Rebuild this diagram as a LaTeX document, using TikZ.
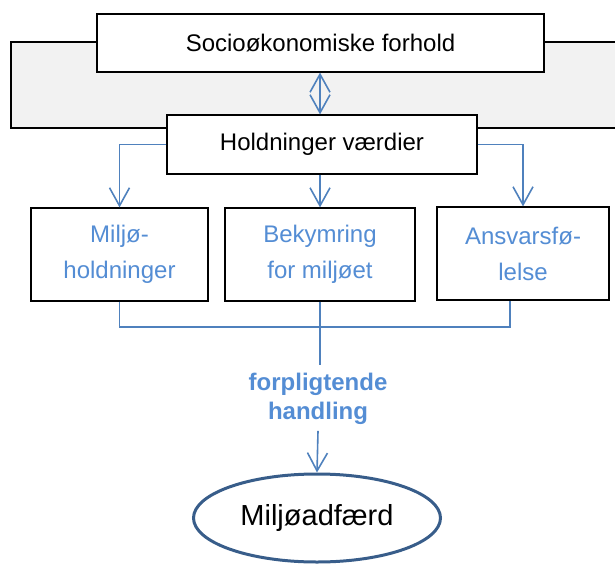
\documentclass[tikz,border=0pt]{standalone}
\usepackage{fontspec}
\setmainfont{Liberation Sans}
\usetikzlibrary{positioning,arrows.meta,shapes.geometric}
\definecolor{txtblue}{RGB}{84,141,212}
\definecolor{lineblue}{RGB}{79,129,189}
\definecolor{ellblue}{RGB}{56,93,138}
\definecolor{bggray}{RGB}{242,242,242}

\begin{document}
\begin{tikzpicture}[x=1pt,y=-1pt]
            \tikzset{
                box/.style={draw=black, line width=1.2pt, fill=white, inner sep=0pt, font=\fontsize{24}{29}\selectfont},
                bluebox/.style={box, text=txtblue, align=center, font=\fontsize{24}{36}\selectfont},
                link/.style={draw=lineblue, line width=1.6pt},
                arr/.style={-{Straight Barb[length=18pt,width=20pt,line width=1.6pt]}},
                dblarr/.style={{Straight Barb[length=18pt,width=20pt,line width=1.6pt]}-{Straight Barb[length=18pt,width=20pt,line width=1.6pt]}},}
            \useasboundingbox (0,0) rectangle (615,564);
            % grey band behind the two top boxes
            \draw [fill=bggray, line width=1.2pt] (11,42) rectangle (640,128);
            \node [box, minimum width=447pt, minimum height=58pt] (socio) at (320.5,43) {Socioøkonomiske forhold};
            \node [box, minimum width=310pt, minimum height=59pt] (holdn) at (322,144.5) {Holdninger værdier};
            \node [bluebox, minimum width=177pt, minimum height=93pt] (miljo) at (119.5,254.5) {Miljø-\\holdninger};
            \node [bluebox, minimum width=190pt, minimum height=93pt] (bekym) at (320,254.5) {Bekymring\\for miljøet};
            \node [bluebox, minimum width=172pt, minimum height=93pt] (ansvar) at (523,253.5) {Ansvarsfø-\\lelse};
            \node [text=txtblue, align=center, inner sep=0pt, font=\fontsize{24}{29}\selectfont\bfseries] (handl) at (318,399) {forpligtende\\handling};
            \node [ellipse, draw=ellblue, line width=3pt, minimum width=247pt, minimum height=88pt, font=\fontsize{29}{34}\selectfont] (adfaerd) at (317,518) {Miljøadfærd};
            \coordinate (br) at (510,327);
            \draw [link, dblarr] (socio.south -| 320,0) -- (holdn.north -| 320,0);
            \draw [link, arr] (holdn.west) -| (miljo.north);
            \draw [link, arr] (holdn.east) -| (ansvar.north);
            \draw [link, arr] (bekym.north |- holdn.south) -- (bekym.north);
            % bracket under the three boxes
            \draw [link] (miljo.south) |- (br) -- (br |- ansvar.south);
            \draw [link] (bekym.south) -- ([yshift=8pt]handl.north -| bekym.south);
            \draw [link, arr] ([yshift=-6pt]handl.south) -- (adfaerd.north);
        \end{tikzpicture}
\end{document}
